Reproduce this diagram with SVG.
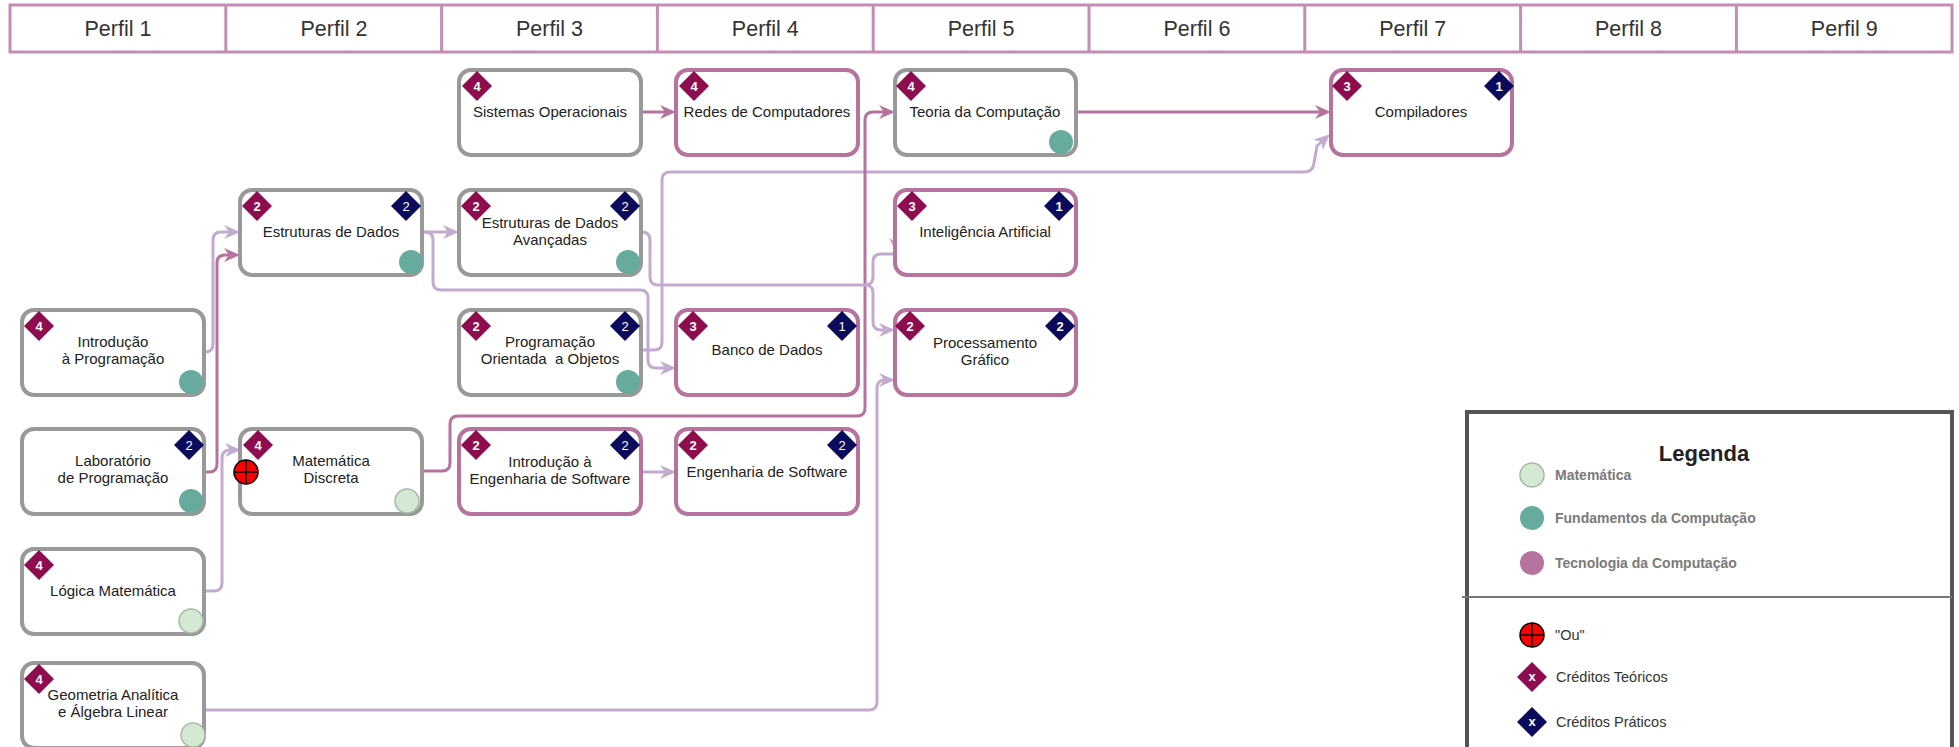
<svg xmlns="http://www.w3.org/2000/svg" width="1959" height="747" viewBox="0 0 1959 747">
  <style>
    .hd { fill:#fff; stroke:#C48DB5; stroke-width:3; }
    .hdl { stroke:#C48DB5; stroke-width:3; }
    .ht { font-family:"Liberation Sans", Arial, sans-serif; font-size:21.5px; fill:#333; text-anchor:middle; }
    .box { fill:#fff; stroke-width:4; }
    .g { stroke:#999999; }
    .p { stroke:#B5739D; }
    .t { font-family:"Liberation Sans", Arial, sans-serif; font-size:15px; fill:#222; text-anchor:middle; }
    .dt { fill:#8E0D4F; }
    .dp { fill:#0B0B5C; }
    .nb { font-family:"Liberation Sans", Arial, sans-serif; font-size:13px; font-weight:bold; fill:#fff; text-anchor:middle; }
    .nn { font-family:"Liberation Sans", Arial, sans-serif; font-size:13px; fill:#fff; text-anchor:middle; }
    .cf { fill:#67AB9F; }
    .cm { fill:#D5E8D4; stroke:#A3BBA3; stroke-width:1.5; }
    .ct { fill:#B5739D; }
    .el { fill:none; stroke:#C3ABD0; stroke-width:3; }
    .ed { fill:none; stroke:#B5739D; stroke-width:3; }
    .lgc { font-family:"Liberation Sans", Arial, sans-serif; font-size:14px; font-weight:bold; fill:#7a7a7a; }
    .lgt { font-family:"Liberation Sans", Arial, sans-serif; font-size:14.5px; fill:#333; }
  </style>
  <defs>
    <path id="dmd" d="M0,-15 L15,0 L0,15 L-15,0 Z"/>
    <marker id="aL" viewBox="0 0 16 14" refX="12" refY="7" markerWidth="16" markerHeight="14" markerUnits="userSpaceOnUse" orient="auto">
      <path d="M0,0 L16,7 L0,14 L5,7 Z" fill="#C3ABD0"/>
    </marker>
    <marker id="aD" viewBox="0 0 16 14" refX="12" refY="7" markerWidth="16" markerHeight="14" markerUnits="userSpaceOnUse" orient="auto">
      <path d="M0,0 L16,7 L0,14 L5,7 Z" fill="#B5739D"/>
    </marker>
    <g id="ou">
      <circle r="12" fill="#FF0000" stroke="#000" stroke-width="1.5"/>
      <path d="M0,-12 V12 M-12,0 H12" stroke="#000" stroke-width="1.5"/>
    </g>
  </defs>

  <!-- header row of profiles -->
  <g id="header">
    <rect class="hd" x="10" y="5" width="1942" height="47"/>
    <path class="hdl" d="M225.8,5 V52 M441.6,5 V52 M657.4,5 V52 M873.2,5 V52 M1089,5 V52 M1304.8,5 V52 M1520.6,5 V52 M1736.4,5 V52"/>
    <text class="ht" x="118" y="36">Perfil 1</text>
    <text class="ht" x="334" y="36">Perfil 2</text>
    <text class="ht" x="549.5" y="36">Perfil 3</text>
    <text class="ht" x="765.3" y="36">Perfil 4</text>
    <text class="ht" x="981.1" y="36">Perfil 5</text>
    <text class="ht" x="1196.9" y="36">Perfil 6</text>
    <text class="ht" x="1412.7" y="36">Perfil 7</text>
    <text class="ht" x="1628.5" y="36">Perfil 8</text>
    <text class="ht" x="1844.3" y="36">Perfil 9</text>
  </g>

  <!-- connectors -->
  <g id="connectors">
    <path class="el" d="M204,352 H205 Q213,352 213,344 V240 Q213,232 221,232 H236" marker-end="url(#aL)"/>
    <path class="ed" d="M204,472 H209 Q217,472 217,464 V263 Q217,255 225,255 H236" marker-end="url(#aD)"/>
    <path class="el" d="M204,591 H214 Q222,591 222,583 V458 Q222,450 230,450 H237" marker-end="url(#aL)"/>
    <path class="el" d="M423,232 H455" marker-end="url(#aL)"/>
    <path class="el" d="M423,232 H425 Q433,232 433,240 V282 Q433,290 441,290 H640 Q648,290 648,298 V360 Q648,368 656,368 H672" marker-end="url(#aL)"/>
    <path class="el" d="M642,350 H654 Q662,350 662,342 V180 Q662,172 670,172 H1304 Q1313,172 1314,163 L1317,146 L1327,137" marker-end="url(#aL)"/>
    <path class="ed" d="M642,112 H672" marker-end="url(#aD)"/>
    <path class="ed" d="M423,471 H442 Q450,471 450,463 V424 Q450,416 458,416 H857 Q865,416 865,408 V120 Q865,112 873,112 H891" marker-end="url(#aD)"/>
    <path class="el" d="M642,232 Q650,232 650,240 V277 Q650,285 658,285 H865 Q873,285 873,277 V262 Q873,254 881,254 H896"/>
    <path d="M889,238 L896,252 L903,238 L896,242 Z" fill="#C3ABD0"/>
    <path class="el" d="M865,285 Q873,285 873,293 V322 Q873,330 881,330 H891" marker-end="url(#aL)"/>
    <path class="ed" d="M1076,112 H1327" marker-end="url(#aD)"/>
    <path class="el" d="M642,472 H672" marker-end="url(#aL)"/>
    <path class="el" d="M204,710 H869 Q877,710 877,702 V388 Q877,380 885,380 H891" marker-end="url(#aL)"/>
  </g>

  <!-- Perfil 1 -->
  <g id="introducao-programacao">
    <rect class="box g" x="22" y="310" width="182" height="85" rx="12"/>
    <text class="t" x="113" y="347">Introdução</text>
    <text class="t" x="113" y="364">à Programação</text>
    <use href="#dmd" x="39" y="326" class="dt"/>
    <text class="nb" x="39" y="331">4</text>
    <circle class="cf" cx="191" cy="382" r="12"/>
  </g>
  <g id="laboratorio-programacao">
    <rect class="box g" x="22" y="429" width="182" height="85" rx="12"/>
    <text class="t" x="113" y="466">Laboratório</text>
    <text class="t" x="113" y="483">de Programação</text>
    <use href="#dmd" x="189" y="445" class="dp"/>
    <text class="nn" x="189" y="450">2</text>
    <circle class="cf" cx="191" cy="501" r="12"/>
  </g>
  <g id="logica-matematica">
    <rect class="box g" x="22" y="549" width="182" height="85" rx="12"/>
    <text class="t" x="113" y="596">Lógica Matemática</text>
    <use href="#dmd" x="39" y="565" class="dt"/>
    <text class="nb" x="39" y="570">4</text>
    <circle class="cm" cx="191" cy="621" r="12"/>
  </g>
  <g id="geometria-analitica">
    <rect class="box g" x="22" y="663" width="182" height="85" rx="12"/>
    <text class="t" x="113" y="700">Geometria Analítica</text>
    <text class="t" x="113" y="717">e Álgebra Linear</text>
    <use href="#dmd" x="39" y="679" class="dt"/>
    <text class="nb" x="39" y="684">4</text>
    <circle class="cm" cx="193" cy="735" r="12"/>
  </g>

  <!-- Perfil 2 -->
  <g id="estruturas-dados">
    <rect class="box g" x="240" y="190" width="182" height="85" rx="12"/>
    <text class="t" x="331" y="237">Estruturas de Dados</text>
    <use href="#dmd" x="257" y="206" class="dt"/>
    <text class="nb" x="257" y="211">2</text>
    <use href="#dmd" x="406" y="206" class="dp"/>
    <text class="nn" x="406" y="211">2</text>
    <circle class="cf" cx="411" cy="262" r="12"/>
  </g>
  <g id="matematica-discreta">
    <rect class="box g" x="240" y="429" width="182" height="85" rx="12"/>
    <text class="t" x="331" y="466">Matemática</text>
    <text class="t" x="331" y="483">Discreta</text>
    <use href="#dmd" x="258" y="445" class="dt"/>
    <text class="nb" x="258" y="450">4</text>
    <circle class="cm" cx="407" cy="501" r="12"/>
    <use href="#ou" x="246" y="472"/>
  </g>

  <!-- Perfil 3 -->
  <g id="sistemas-operacionais">
    <rect class="box g" x="459" y="70" width="182" height="85" rx="12"/>
    <text class="t" x="550" y="117">Sistemas Operacionais</text>
    <use href="#dmd" x="477" y="86" class="dt"/>
    <text class="nb" x="477" y="91">4</text>
  </g>
  <g id="estruturas-dados-avancadas">
    <rect class="box g" x="459" y="190" width="182" height="85" rx="12"/>
    <text class="t" x="550" y="228">Estruturas de Dados</text>
    <text class="t" x="550" y="245">Avançadas</text>
    <use href="#dmd" x="476" y="206" class="dt"/>
    <text class="nb" x="476" y="211">2</text>
    <use href="#dmd" x="625" y="206" class="dp"/>
    <text class="nn" x="625" y="211">2</text>
    <circle class="cf" cx="628" cy="262" r="12"/>
  </g>
  <g id="programacao-orientada-objetos">
    <rect class="box g" x="459" y="310" width="182" height="85" rx="12"/>
    <text class="t" x="550" y="347">Programação</text>
    <text class="t" x="550" y="364">Orientada&#160; a Objetos</text>
    <use href="#dmd" x="476" y="326" class="dt"/>
    <text class="nb" x="476" y="331">2</text>
    <use href="#dmd" x="625" y="326" class="dp"/>
    <text class="nn" x="625" y="331">2</text>
    <circle class="cf" cx="628" cy="382" r="12"/>
  </g>
  <g id="introducao-engenharia-software">
    <rect class="box p" x="459" y="429" width="182" height="85" rx="12"/>
    <text class="t" x="550" y="467">Introdução à</text>
    <text class="t" x="550" y="484">Engenharia de Software</text>
    <use href="#dmd" x="476" y="445" class="dt"/>
    <text class="nb" x="476" y="450">2</text>
    <use href="#dmd" x="625" y="445" class="dp"/>
    <text class="nn" x="625" y="450">2</text>
  </g>

  <!-- Perfil 4 -->
  <g id="redes-computadores">
    <rect class="box p" x="676" y="70" width="182" height="85" rx="12"/>
    <text class="t" x="767" y="117">Redes de Computadores</text>
    <use href="#dmd" x="694" y="86" class="dt"/>
    <text class="nb" x="694" y="91">4</text>
  </g>
  <g id="banco-dados">
    <rect class="box p" x="676" y="310" width="182" height="85" rx="12"/>
    <text class="t" x="767" y="355">Banco de Dados</text>
    <use href="#dmd" x="693" y="326" class="dt"/>
    <text class="nb" x="693" y="331">3</text>
    <use href="#dmd" x="842" y="326" class="dp"/>
    <text class="nn" x="842" y="331">1</text>
  </g>
  <g id="engenharia-software">
    <rect class="box p" x="676" y="429" width="182" height="85" rx="12"/>
    <text class="t" x="767" y="477">Engenharia de Software</text>
    <use href="#dmd" x="693" y="445" class="dt"/>
    <text class="nb" x="693" y="450">2</text>
    <use href="#dmd" x="842" y="445" class="dp"/>
    <text class="nn" x="842" y="450">2</text>
  </g>

  <!-- Perfil 5 -->
  <g id="teoria-computacao">
    <rect class="box g" x="895" y="70" width="181" height="85" rx="12"/>
    <text class="t" x="985" y="117">Teoria da Computação</text>
    <use href="#dmd" x="911" y="86" class="dt"/>
    <text class="nb" x="911" y="91">4</text>
    <circle class="cf" cx="1061" cy="142" r="12"/>
  </g>
  <g id="inteligencia-artificial">
    <rect class="box p" x="895" y="190" width="181" height="85" rx="12"/>
    <text class="t" x="985" y="237">Inteligência Artificial</text>
    <use href="#dmd" x="912" y="206" class="dt"/>
    <text class="nb" x="912" y="211">3</text>
    <use href="#dmd" x="1059" y="206" class="dp"/>
    <text class="nb" x="1059" y="211">1</text>
  </g>
  <g id="processamento-grafico">
    <rect class="box p" x="895" y="310" width="181" height="85" rx="12"/>
    <text class="t" x="985" y="348">Processamento</text>
    <text class="t" x="985" y="365">Gráfico</text>
    <use href="#dmd" x="910" y="326" class="dt"/>
    <text class="nb" x="910" y="331">2</text>
    <use href="#dmd" x="1060" y="326" class="dp"/>
    <text class="nb" x="1060" y="331">2</text>
  </g>

  <!-- Perfil 7 -->
  <g id="compiladores">
    <rect class="box p" x="1331" y="70" width="181" height="85" rx="12"/>
    <text class="t" x="1421" y="117">Compiladores</text>
    <use href="#dmd" x="1347" y="86" class="dt"/>
    <text class="nb" x="1347" y="91">3</text>
    <use href="#dmd" x="1499" y="86" class="dp"/>
    <text class="nb" x="1499" y="91">1</text>
  </g>

  <!-- legend -->
  <g id="legenda">
    <rect x="1467" y="412" width="485" height="345" fill="#fff" stroke="#555" stroke-width="4"/>
    <line x1="1462" y1="597" x2="1952" y2="597" stroke="#777" stroke-width="2"/>
    <text x="1704" y="461" font-family="Liberation Sans, Arial, sans-serif" font-size="22" font-weight="bold" fill="#222" text-anchor="middle">Legenda</text>
    <circle class="cm" cx="1532" cy="475" r="12"/>
    <text class="lgc" x="1555" y="480">Matemática</text>
    <circle class="cf" cx="1532" cy="518" r="12"/>
    <text class="lgc" x="1555" y="523">Fundamentos da Computação</text>
    <circle class="ct" cx="1532" cy="563" r="12"/>
    <text class="lgc" x="1555" y="568">Tecnologia da Computação</text>
    <use href="#ou" x="1532" y="635"/>
    <text class="lgt" x="1555" y="640">"Ou"</text>
    <use href="#dmd" x="1532" y="677" class="dt"/>
    <text class="nb" x="1532" y="681" font-size="11">x</text>
    <text class="lgt" x="1556" y="682">Créditos Teóricos</text>
    <use href="#dmd" x="1532" y="722" class="dp"/>
    <text class="nb" x="1532" y="726" font-size="11">x</text>
    <text class="lgt" x="1556" y="727">Créditos Práticos</text>
  </g>
</svg>
